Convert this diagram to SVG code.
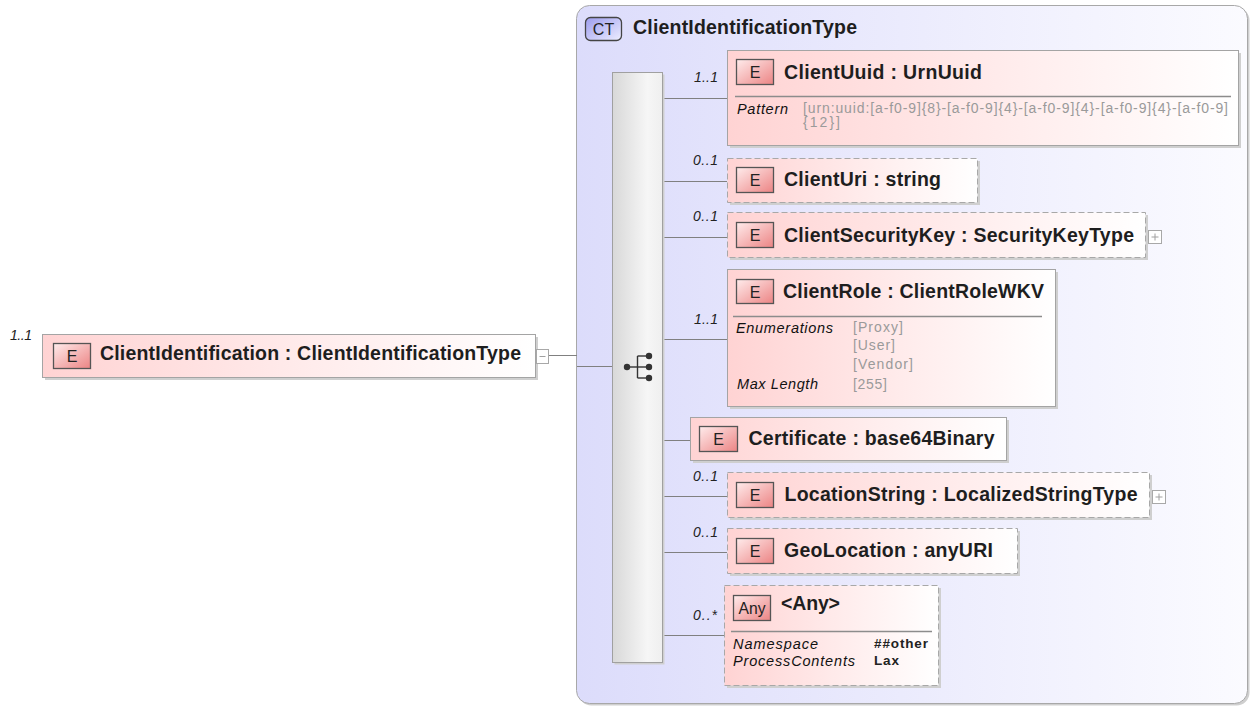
<svg xmlns="http://www.w3.org/2000/svg" width="1251" height="706" viewBox="0 0 1251 706">
  <defs>
    <linearGradient id="elFill" x1="0" y1="0" x2="1" y2="0">
      <stop offset="0" stop-color="#ffd3d3"/>
      <stop offset="0.55" stop-color="#ffecec"/>
      <stop offset="1" stop-color="#ffffff"/>
    </linearGradient>
    <linearGradient id="badgeFill" x1="0" y1="0" x2="1" y2="1">
      <stop offset="0" stop-color="#ffecec"/>
      <stop offset="1" stop-color="#ec8484"/>
    </linearGradient>
    <linearGradient id="ctBadgeFill" x1="0" y1="0" x2="1" y2="1">
      <stop offset="0" stop-color="#9c9cee"/>
      <stop offset="1" stop-color="#eeeeff"/>
    </linearGradient>
    <linearGradient id="ctFill" x1="0" y1="0" x2="1" y2="0">
      <stop offset="0" stop-color="#dcdcfb"/>
      <stop offset="1" stop-color="#fbfbff"/>
    </linearGradient>
    <linearGradient id="seqFill" x1="0" y1="0" x2="1" y2="0">
      <stop offset="0" stop-color="#d8d8d8"/>
      <stop offset="0.7" stop-color="#f6f6f6"/>
      <stop offset="1" stop-color="#efefef"/>
    </linearGradient>
    <style>
      .name { font-family: "Liberation Sans", Arial, sans-serif; font-weight: bold; font-size: 19.5px; fill: #1e1e1e; }
      .card { font-family: "Liberation Sans", Arial, sans-serif; font-style: italic; font-size: 14px; fill: #222; }
      .lbl { font-family: "Liberation Sans", Arial, sans-serif; font-style: italic; font-size: 14.5px; fill: #111; }
      .val { font-family: "Liberation Sans", Arial, sans-serif; font-size: 14px; fill: #9a9a9a; }
      .bval { font-family: "Liberation Sans", Arial, sans-serif; font-weight: bold; font-size: 13.5px; fill: #222; }
      .btxt { font-family: "Liberation Sans", Arial, sans-serif; font-size: 16px; fill: #222; text-anchor: middle; }
      .box { fill: url(#elFill); stroke: #a4a4a4; stroke-width: 1; }
      .opt { stroke-dasharray: 6 3; stroke: #a8a8a8; }
      .shadow { fill: #cfcfcf; }
      .badge { fill: url(#badgeFill); stroke: #555; stroke-width: 1.3; }
      .sep { stroke: #8c8c8c; stroke-width: 1.5; }
      .conn { stroke: #808080; stroke-width: 1; fill: none; }
      .tog { fill: #fff; stroke: #a8a8a8; stroke-width: 1; }
      .togmark { stroke: #a0a0a0; stroke-width: 1; }
    </style>
  </defs>

  <!-- complex type container -->
  <g id="ClientIdentificationType">
    <rect x="578.5" y="7.5" width="671" height="698" rx="13" fill="#cfcfcf"/>
    <rect x="576.5" y="5.5" width="671" height="698" rx="13" fill="url(#ctFill)" stroke="#a8a8a8"/>
    <rect x="585.5" y="17.5" width="36" height="23" rx="5" fill="url(#ctBadgeFill)" stroke="#444" stroke-width="1.3"/>
    <text class="btxt" x="603.5" y="35">CT</text>
    <text class="name" x="633" y="34" textLength="224" lengthAdjust="spacing">ClientIdentificationType</text>
  </g>

  <!-- connectors -->
  <g id="connectors">
    <line class="conn" x1="549" y1="355.5" x2="577" y2="355.5"/>
    <line class="conn" x1="577" y1="366.5" x2="612" y2="366.5"/>
    <line class="conn" x1="663" y1="98.5" x2="727" y2="98.5"/>
    <line class="conn" x1="663" y1="181.5" x2="727" y2="181.5"/>
    <line class="conn" x1="663" y1="237.5" x2="727" y2="237.5"/>
    <line class="conn" x1="663" y1="339.5" x2="727" y2="339.5"/>
    <line class="conn" x1="663" y1="440.5" x2="690" y2="440.5"/>
    <line class="conn" x1="663" y1="496.5" x2="727" y2="496.5"/>
    <line class="conn" x1="663" y1="552.5" x2="727" y2="552.5"/>
    <line class="conn" x1="663" y1="635.5" x2="724" y2="635.5"/>
  </g>

  <!-- root element -->
  <g id="ClientIdentification">
    <rect class="shadow" x="45" y="337" width="493" height="43"/>
    <rect class="box" x="42.5" y="334.5" width="493" height="43"/>
    <rect class="badge" x="53.5" y="343.5" width="37" height="25"/>
    <text class="btxt" x="72" y="362">E</text>
    <text class="name" x="100" y="359.5" textLength="421" lengthAdjust="spacing">ClientIdentification : ClientIdentificationType</text>
    <text class="card" x="10" y="340" textLength="22" lengthAdjust="spacing">1..1</text>
    <rect class="tog" x="536.5" y="349.5" width="12" height="14"/>
    <line class="togmark" x1="539.5" y1="356.5" x2="545.5" y2="356.5"/>
  </g>

  <!-- sequence compositor -->
  <g id="sequence">
    <rect class="shadow" x="614.5" y="74.5" width="50" height="590"/>
    <rect x="612.5" y="72.5" width="50" height="590" fill="url(#seqFill)" stroke="#a0a0a0"/>
    <g fill="#333" stroke="#333" stroke-width="1.4">
      <line x1="627" y1="367" x2="637.5" y2="367"/>
      <line x1="637.5" y1="356" x2="637.5" y2="378"/>
      <line x1="637.5" y1="356" x2="649" y2="356"/>
      <line x1="637.5" y1="367" x2="649" y2="367"/>
      <line x1="637.5" y1="378" x2="649" y2="378"/>
      <circle cx="627" cy="367" r="3.2" stroke="none"/>
      <circle cx="649" cy="356" r="3.2" stroke="none"/>
      <circle cx="649" cy="367" r="3.2" stroke="none"/>
      <circle cx="649" cy="378" r="3.2" stroke="none"/>
    </g>
  </g>

  <g id="ClientUuid">
    <rect class="shadow" x="730" y="53" width="511" height="95"/>
    <rect class="box" x="727.5" y="50.5" width="511" height="95"/>
    <rect class="badge" x="736.5" y="59.5" width="37" height="25"/>
    <text class="btxt" x="755" y="78">E</text>
    <text class="name" x="784" y="78.5" textLength="198" lengthAdjust="spacing">ClientUuid : UrnUuid</text>
    <line class="sep" x1="735" y1="96.5" x2="1231" y2="96.5"/>
    <text class="lbl" x="737" y="114" textLength="51" lengthAdjust="spacing">Pattern</text>
    <text class="val" x="803" y="113" textLength="425" lengthAdjust="spacing">[urn:uuid:[a-f0-9]{8}-[a-f0-9]{4}-[a-f0-9]{4}-[a-f0-9]{4}-[a-f0-9]</text>
    <text class="val" x="803" y="127" textLength="37" lengthAdjust="spacing">{12}]</text>
    <text class="card" x="694" y="82" textLength="24" lengthAdjust="spacing">1..1</text>
  </g>

  <g id="ClientUri">
    <rect class="shadow" x="730" y="161" width="250" height="44"/>
    <rect class="box opt" x="727.5" y="158.5" width="250" height="44"/>
    <rect class="badge" x="736.5" y="167.5" width="37" height="25"/>
    <text class="btxt" x="755" y="186">E</text>
    <text class="name" x="784" y="186" textLength="157" lengthAdjust="spacing">ClientUri : string</text>
    <text class="card" x="693" y="165" textLength="25" lengthAdjust="spacing">0..1</text>
  </g>

  <g id="ClientSecurityKey">
    <rect class="shadow" x="730" y="215" width="418" height="45"/>
    <rect class="box opt" x="727.5" y="212.5" width="418" height="45"/>
    <rect class="badge" x="736.5" y="222.5" width="37" height="25"/>
    <text class="btxt" x="755" y="241">E</text>
    <text class="name" x="784" y="241.5" textLength="350" lengthAdjust="spacing">ClientSecurityKey : SecurityKeyType</text>
    <rect class="tog" x="1148.5" y="230.5" width="13" height="13"/>
    <line class="togmark" x1="1151.5" y1="237" x2="1158.5" y2="237"/>
    <line class="togmark" x1="1155" y1="233.5" x2="1155" y2="240.5"/>
    <text class="card" x="693" y="221" textLength="25" lengthAdjust="spacing">0..1</text>
  </g>

  <g id="ClientRole">
    <rect class="shadow" x="730" y="272" width="328" height="137"/>
    <rect class="box" x="727.5" y="269.5" width="328" height="137"/>
    <rect class="badge" x="736.5" y="279.5" width="37" height="24"/>
    <text class="btxt" x="755" y="297.5">E</text>
    <text class="name" x="783" y="297.5" textLength="261" lengthAdjust="spacing">ClientRole : ClientRoleWKV</text>
    <line class="sep" x1="733" y1="316.5" x2="1042" y2="316.5"/>
    <text class="lbl" x="736" y="333" textLength="97" lengthAdjust="spacing">Enumerations</text>
    <text class="val" x="853" y="332" textLength="50" lengthAdjust="spacing">[Proxy]</text>
    <text class="val" x="853" y="350" textLength="42" lengthAdjust="spacing">[User]</text>
    <text class="val" x="853" y="369" textLength="60" lengthAdjust="spacing">[Vendor]</text>
    <text class="lbl" x="737" y="389" textLength="81" lengthAdjust="spacing">Max Length</text>
    <text class="val" x="853" y="389" textLength="34" lengthAdjust="spacing">[255]</text>
    <text class="card" x="694" y="324" textLength="24" lengthAdjust="spacing">1..1</text>
  </g>

  <g id="Certificate">
    <rect class="shadow" x="693" y="420" width="316" height="43"/>
    <rect class="box" x="690.5" y="417.5" width="316" height="43"/>
    <rect class="badge" x="699.5" y="426.5" width="38" height="25"/>
    <text class="btxt" x="718.5" y="445">E</text>
    <text class="name" x="748.5" y="445" textLength="246" lengthAdjust="spacing">Certificate : base64Binary</text>
  </g>

  <g id="LocationString">
    <rect class="shadow" x="730" y="475" width="422" height="45"/>
    <rect class="box opt" x="727.5" y="472.5" width="422" height="45"/>
    <rect class="badge" x="736.5" y="482.5" width="37" height="25"/>
    <text class="btxt" x="755" y="501">E</text>
    <text class="name" x="784.5" y="501" textLength="353" lengthAdjust="spacing">LocationString : LocalizedStringType</text>
    <rect class="tog" x="1152.5" y="490.5" width="13" height="13"/>
    <line class="togmark" x1="1155.5" y1="497" x2="1162.5" y2="497"/>
    <line class="togmark" x1="1159" y1="493.5" x2="1159" y2="500.5"/>
    <text class="card" x="693" y="481" textLength="25" lengthAdjust="spacing">0..1</text>
  </g>

  <g id="GeoLocation">
    <rect class="shadow" x="730" y="531" width="290" height="45"/>
    <rect class="box opt" x="727.5" y="528.5" width="290" height="45"/>
    <rect class="badge" x="736.5" y="538.5" width="37" height="25"/>
    <text class="btxt" x="755" y="557">E</text>
    <text class="name" x="784" y="557" textLength="209" lengthAdjust="spacing">GeoLocation : anyURI</text>
    <text class="card" x="693" y="537" textLength="25" lengthAdjust="spacing">0..1</text>
  </g>

  <g id="Any">
    <rect class="shadow" x="727" y="588" width="214" height="100"/>
    <rect class="box opt" x="724.5" y="585.5" width="214" height="100"/>
    <rect class="badge" x="733.5" y="595.5" width="37" height="25"/>
    <text class="btxt" x="752" y="614" font-size="15" textLength="27" lengthAdjust="spacingAndGlyphs">Any</text>
    <text class="name" x="781" y="610" textLength="59" lengthAdjust="spacing">&lt;Any&gt;</text>
    <line class="sep" x1="731" y1="631.5" x2="932" y2="631.5"/>
    <text class="lbl" x="733" y="649" textLength="85" lengthAdjust="spacing">Namespace</text>
    <text class="bval" x="874" y="648" textLength="54" lengthAdjust="spacing">##other</text>
    <text class="lbl" x="733" y="666" textLength="122" lengthAdjust="spacing">ProcessContents</text>
    <text class="bval" x="874" y="665" textLength="25" lengthAdjust="spacing">Lax</text>
    <text class="card" x="693" y="620" textLength="24" lengthAdjust="spacing">0..*</text>
  </g>
</svg>
